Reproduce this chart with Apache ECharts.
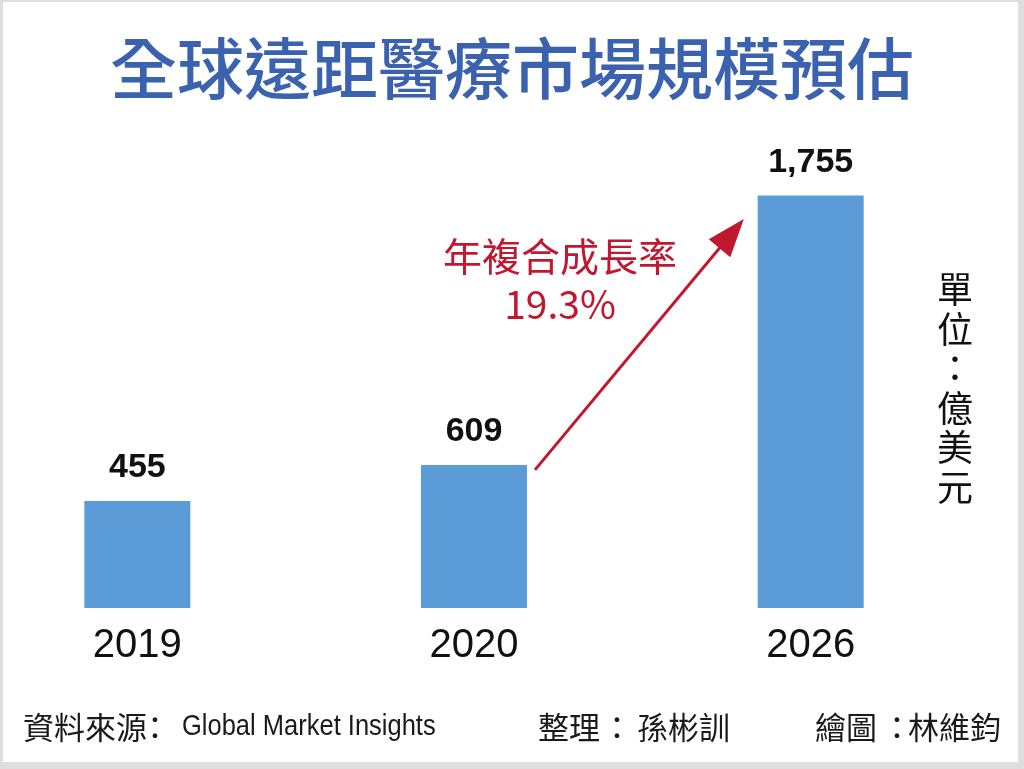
<!DOCTYPE html>
<html>
<head>
    <meta charset="utf-8">
    <script src="https://cdn.jsdelivr.net/npm/echarts@6/dist/echarts.min.js"></script>
    <style>
        html, body { margin: 0; padding: 0; background: #fff; }
        #main {
            width: 1024px; height: 769px; background: #fff;
            box-shadow: inset 3px 2px 0 #dedede, inset -6px -7px 0 #dedede;
        }
    </style>
</head>
<body>
<div id="main"></div>
<script type="text/javascript">
    // 資料
    var years = ['2019', '2020', '2026'];
    var values = [455, 609, 1755];
    var cagrText = ['年複合成長率', '19.3%'];
    var unitText = '單位：億美元';

    var cjk = '"Noto Sans CJK TC", "Noto Sans CJK SC", sans-serif';
    var latin = '"Liberation Sans", Arial, sans-serif';
    var red = '#c0182f';
    var ink = '#1a1a1a';

    var myChart = echarts.init(document.getElementById('main'));

    // 頁尾文字
    function footText(x, y, text, align) {
        return {
            type: 'text', x: x, y: y,
            style: { text: text, fill: ink, font: '31px ' + cjk, align: align || 'left', verticalAlign: 'middle' }
        };
    }

    var option = {
        backgroundColor: 'transparent',
        animation: false,
        title: {
            text: '全球遠距醫療市場規模預估',
            left: 'center',
            top: 30,
            textStyle: {
                fontFamily: cjk,
                fontSize: 67,
                fontWeight: 500,
                color: '#3b62ae'
            }
        },
        grid: {
            left: -31,
            width: 1010,
            top: 138,
            bottom: 161,
            outerBoundsMode: 'none'
        },
        xAxis: {
            type: 'category',
            data: years,
            axisLine: { show: false },
            axisTick: { show: false },
            axisLabel: {
                margin: 18,
                fontFamily: latin,
                fontSize: 40,
                color: '#111'
            }
        },
        yAxis: {
            type: 'value',
            min: 0,
            max: 2000,
            show: false
        },
        series: [{
            type: 'bar',
            data: values,
            barWidth: 106,
            itemStyle: { color: '#5a9bd8' },
            label: {
                show: true,
                position: 'top',
                distance: 16,
                fontFamily: latin,
                fontSize: 34,
                fontWeight: 'bold',
                color: '#111',
                formatter: function (p) {
                    return p.value.toLocaleString('en-US');
                }
            }
        }],
        graphic: [
            {
                type: 'text',
                x: 560,
                y: 232,
                style: {
                    text: cagrText[0] + '\n' + cagrText[1],
                    align: 'center',
                    fill: red,
                    font: '39px ' + cjk,
                    lineHeight: 48
                }
            },
            {
                type: 'text',
                x: 937,
                y: 270,
                style: {
                    text: unitText.split('').join('\n'),
                    fill: '#111',
                    font: '36px ' + cjk,
                    lineHeight: 39.5
                }
            },
            footText(23, 727, '資料來源'),
            footText(155, 727, '：', 'center'),
            {
                type: 'text', x: 182, y: 727, scaleX: 0.85,
                style: { text: 'Global Market Insights', fill: ink, font: '30px ' + latin, verticalAlign: 'middle' }
            },
            footText(538, 727, '整理'),
            footText(617, 727, '：', 'center'),
            footText(637, 727, '孫彬訓'),
            footText(815, 727, '繪圖'),
            footText(897, 727, '：', 'center'),
            footText(908, 727, '林維鈞')
        ]
    };
    myChart.setOption(option);

    // 箭頭：由 2020 柱頂右側指向 2026 柱頂左側
    var p0 = myChart.convertToPixel({ seriesIndex: 0 }, [years[1], values[1]]);
    var p1 = myChart.convertToPixel({ seriesIndex: 0 }, [years[2], values[2]]);
    myChart.setOption({
        series: [{
            markLine: {
                silent: true,
                symbol: ['none', 'triangle'],
                symbolSize: [28, 38],
                label: { show: false },
                lineStyle: { color: red, width: 3, type: 'solid' },
                data: [[
                    { x: p0[0] + 61, y: p0[1] + 5 },
                    { x: p1[0] - 79, y: p1[1] + 38 }
                ]]
            }
        }]
    });
</script>
</body>
</html>
